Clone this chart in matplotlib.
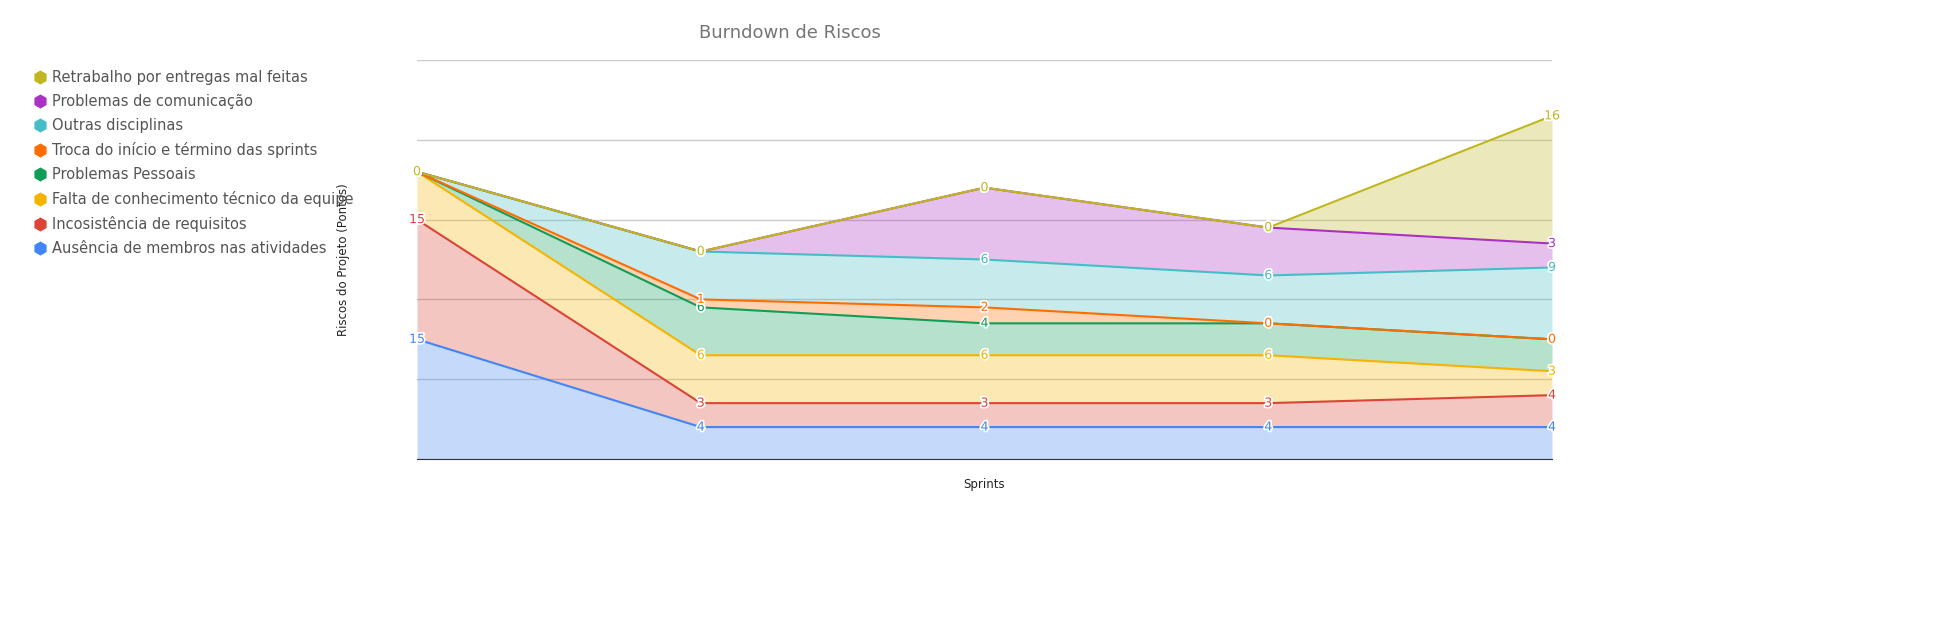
import matplotlib
matplotlib.use("Agg")
import matplotlib.pyplot as plt
import matplotlib.patheffects as pe
from matplotlib.lines import Line2D
import numpy as np

sprints = [0, 1, 2, 3, 4]
series_names = ["Ausência de membros nas atividades", "Incosistência de requisitos",
                "Falta de conhecimento técnico da equipe", "Problemas Pessoais",
                "Troca do início e término das sprints", "Outras disciplinas",
                "Problemas de comunicação", "Retrabalho por entregas mal feitas"]
ausencia = [15, 4, 4, 4, 4]
incosistencia = [15, 3, 3, 3, 4]
falta = [6, 6, 6, 6, 3]
pessoais = [0, 6, 4, 4, 4]
troca = [0, 1, 2, 0, 0]
outras = [0, 6, 6, 6, 9]
comunicacao = [0, 0, 9, 6, 3]
retrabalho = [0, 0, 0, 0, 16]
values = [ausencia, incosistencia, falta, pessoais, troca, outras, comunicacao, retrabalho]
colors = ["#4285F4", "#DB4437", "#F4B400", "#0F9D58", "#FF6D01", "#46BDC6", "#AB30C4", "#C0B71E"]

fig = plt.figure(figsize=(19.41, 6.22), dpi=100)
ax = fig.add_axes([417/1941, (622-459)/622, (1552-417)/1941, (459-60)/622])
x = np.array(sprints)
base = np.zeros(5)
for name, v, c in zip(series_names, values, colors):
    top = base + np.array(v)
    ax.fill_between(x, base, top, color=c, alpha=0.3, linewidth=0)
    ax.plot(x, top, color=c, lw=1.5)
    for xi, yi, vi in zip(x, top, v):
        ax.text(xi, yi, str(vi), color=c, fontsize=9, ha="center", va="center", clip_on=False,
                path_effects=[pe.withStroke(linewidth=2.5, foreground="white")])
    base = top

ax.set_xlim(0, 4)
ax.set_ylim(0, 50)
ax.set_yticks(range(0, 51, 10))
ax.set_yticklabels([])
ax.set_xticks([])
ax.tick_params(length=0)
ax.grid(axis="y", color="#cccccc", lw=1)
ax.set_axisbelow(True)
for s in ["top", "right", "left"]:
    ax.spines[s].set_visible(False)
ax.spines["bottom"].set_color("#333333")
ax.set_xlabel("Sprints", fontsize=8.5, color="#222222", labelpad=14)
ax.set_ylabel("Riscos do Projeto (Pontos)", fontsize=8.5, color="#222222", labelpad=45)
fig.text(790/1941, 1 - 33/622, "Burndown de Riscos", fontsize=13, color="#757575", ha="center", va="center")

handles = [Line2D([], [], marker="h", color=c, linestyle="none", markersize=9)
           for c in colors[::-1]]
fig.legend(handles, series_names[::-1], loc="upper left", bbox_to_anchor=(18/1941, 1 - 57/622),
           frameon=False, fontsize=10.5, labelcolor="#555555", handletextpad=0.2,
           labelspacing=0.62, handlelength=1.2)
fig.savefig("out.png", dpi=100)
